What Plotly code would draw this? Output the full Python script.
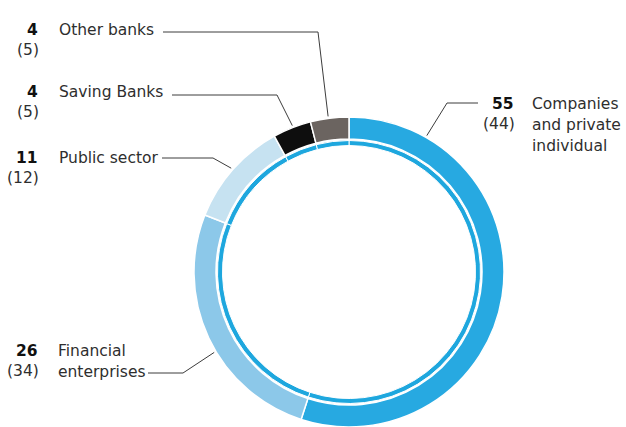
import math
import plotly.graph_objects as go

# ---- data ----
categories = ["Companies and private individual", "Financial enterprises",
              "Public sector", "Saving Banks", "Other banks"]
label_lines = [["Companies", "and private", "individual"],
               ["Financial", "enterprises"],
               ["Public sector"],
               ["Saving Banks"],
               ["Other banks"]]
share_current = [55, 26, 11, 4, 4]
share_previous = [44, 34, 12, 5, 5]

# ---- style ----
W, H = 626, 427
colors = ["#27a9e1", "#8cc8e9", "#c6e2f1", "#0e0e0e", "#6b6460"]
inner_color = "#1ea7de"
text_color = "#2e2e2e"
line_color = "#3c3c3c"
FONT = "DejaVu Sans"
FSIZE = 15.5

cx, cy = 349.0, 272.0      # ring centre, px
R_out = 155.0              # outer radius of the main ring
R_hole = 133.0             # inner radius of the main ring
R_thin_out, R_thin_in = 131.5, 126.5

# label layout per category: number column right edge, text x, first line y,
# leader y, leader start x, elbow x, anchor position within the slice
label_layout = [
    dict(num_x=516, txt_x=530, y=104, leader_y=103, lx=478, ex=447, f=0.15),
    dict(num_x=40, txt_x=56, y=351, leader_y=373, lx=148, ex=183, f=0.44),
    dict(num_x=40, txt_x=57, y=158, leader_y=158, lx=162, ex=213, f=0.5),
    dict(num_x=40, txt_x=57, y=92, leader_y=95, lx=172, ex=277, f=0.53),
    dict(num_x=40, txt_x=57, y=30, leader_y=32, lx=163, ex=318, f=0.47),
]
LINE_STEP = 21


def domain_for(r):
    return dict(x=[(cx - r) / W, (cx + r) / W],
                y=[max(0.0, (H - cy - r) / H), min(1.0, (H - cy + r) / H)])


fig = go.Figure()

# main ring
fig.add_trace(go.Pie(
    labels=categories, values=share_current, sort=False, direction="clockwise",
    rotation=0, hole=R_hole / R_out, domain=domain_for(R_out),
    marker=dict(colors=colors, line=dict(color="white", width=1.5)),
    textinfo="none", hoverinfo="label+value", showlegend=False,
))

# thin inner ring
fig.add_trace(go.Pie(
    labels=categories, values=share_current, sort=False, direction="clockwise",
    rotation=0, hole=R_thin_in / R_thin_out, domain=domain_for(R_thin_out),
    marker=dict(colors=[inner_color] * len(categories),
                line=dict(color="white", width=1)),
    textinfo="none", hoverinfo="skip", showlegend=False,
))

# leader lines and labels
total = sum(share_current)
start = 0.0
shapes, annotations = [], []
for i, cat in enumerate(categories):
    frac = share_current[i] / total
    lay = label_layout[i]
    theta = 2 * math.pi * (start + lay["f"] * frac)
    start += frac
    ax = cx + (R_out + 2) * math.sin(theta)
    ay = cy - (R_out + 2) * math.cos(theta)

    path = f"M {lay['lx']},{lay['leader_y']} L {lay['ex']},{lay['leader_y']} L {ax:.1f},{ay:.1f}"
    shapes.append(dict(type="path", path=path, xref="x", yref="y",
                       line=dict(color=line_color, width=1)))

    annotations.append(dict(
        x=lay["num_x"], y=lay["y"], xref="x", yref="y", xanchor="right",
        yanchor="middle", showarrow=False,
        text=f"<b>{share_current[i]}</b>",
        font=dict(family=FONT, size=FSIZE, color="#111111")))
    annotations.append(dict(
        x=lay["num_x"] + 1, y=lay["y"] + LINE_STEP - 1, xref="x", yref="y",
        xanchor="right", yanchor="middle", showarrow=False,
        text=f"({share_previous[i]})",
        font=dict(family=FONT, size=FSIZE, color=text_color)))
    for k, line in enumerate(label_lines[i]):
        annotations.append(dict(
            x=lay["txt_x"], y=lay["y"] + k * LINE_STEP, xref="x", yref="y",
            xanchor="left", yanchor="middle", showarrow=False, text=line,
            font=dict(family=FONT, size=FSIZE, color=text_color)))

fig.update_layout(
    width=W, height=H, margin=dict(l=0, r=0, t=0, b=0),
    paper_bgcolor="white", plot_bgcolor="rgba(0,0,0,0)",
    xaxis=dict(range=[0, W], visible=False, fixedrange=True, domain=[0, 1]),
    yaxis=dict(range=[H, 0], visible=False, fixedrange=True, domain=[0, 1]),
    shapes=shapes, annotations=annotations,
)

fig.write_html("out.html")
